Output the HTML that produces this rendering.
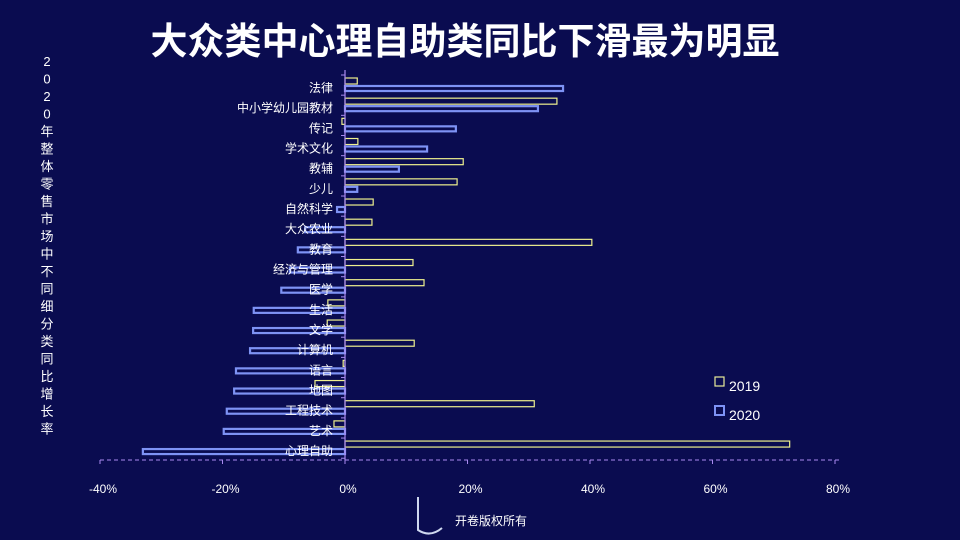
<!DOCTYPE html>
<html><head><meta charset="utf-8">
<style>
html,body{margin:0;padding:0;background:#0a0c50;}
svg{display:block;font-family:"Liberation Sans","Noto Sans CJK SC",sans-serif;}
</style></head>
<body>
<svg id="chart" width="960" height="540" viewBox="0 0 960 540">
<rect width="960" height="540" fill="#0a0c50"/>
<text x="465" y="54" fill="#fff" font-size="37" font-weight="bold" text-anchor="middle" font-family="'Liberation Sans','Noto Sans CJK SC',sans-serif">大众类中心理自助类同比下滑最为明显</text>
<g id="ytitle"></g>
<g id="bars"></g>
<g id="axes"></g>
<g>
<rect x="715" y="377" width="9" height="9" fill="none" stroke="#e8ec9a" stroke-width="1.2"/>
<text x="729" y="391" fill="#fff" font-size="14">2019</text>
<rect x="715" y="406" width="9" height="9" fill="none" stroke="#7e93f5" stroke-width="2"/>
<text x="729" y="420" fill="#fff" font-size="14">2020</text>
</g>
<g>
<path d="M418 497 L418 530 Q430 538 442 528" fill="none" stroke="#cfd8ef" stroke-width="2"/>
<text x="455" y="525" fill="#fff" font-size="12">开卷版权所有</text>
</g>
</svg>
<script>
const categories=["法律","中小学幼儿园教材","传记","学术文化","教辅","少儿","自然科学","大众农业","教育","经济与管理","医学","生活","文学","计算机","语言","地图","工程技术","艺术","心理自助"];
const values2019=[2.0,34.6,-0.5,2.1,19.3,18.3,4.6,4.4,40.3,11.1,12.9,-2.8,-2.9,11.3,-0.3,-4.9,30.9,-1.8,72.6];
const values2020=[35.6,31.5,18.1,13.4,8.8,2.0,-1.3,-6.5,-7.7,-9.0,-10.4,-14.9,-15.0,-15.5,-17.8,-18.1,-19.3,-19.8,-33.0];
const xTicks=[-40,-20,0,20,40,60,80];
const titleChars="2020年整体零售市场中不同细分类同比增长率";
const NS="http://www.w3.org/2000/svg";
function x(v){return 345+v*122.5/20;}
function rowTop(i){return 78+i*20.17;}
function mk(tag,attrs,parent){const e=document.createElementNS(NS,tag);for(const k in attrs)e.setAttribute(k,attrs[k]);parent.appendChild(e);return e;}
const bars=document.getElementById('bars'),axes=document.getElementById('axes'),yt=document.getElementById('ytitle');
for(let i=0;i<titleChars.length;i++){
  const t=mk('text',{x:47,y:66+i*17.5,fill:'#fff','font-size':13,'text-anchor':'middle'},yt);
  t.textContent=titleChars[i];
}
categories.forEach((c,i)=>{
  const t=rowTop(i);
  const a=values2019[i],b=values2020[i];
  const r1=mk('rect',{x:Math.min(x(0),x(a)),y:t,width:Math.max(1,Math.abs(x(a)-x(0))),height:6,fill:'none',stroke:'#eef08e','stroke-width':1.2},bars);
  
  
  const r2=mk('rect',{x:Math.min(x(0),x(b)),y:t+8,width:Math.max(1,Math.abs(x(b)-x(0))),height:5,fill:'none',stroke:'#7e93f5','stroke-width':2.2},bars);
  
  
  const l=mk('text',{x:333,y:t+14,fill:'#fff','font-size':12,'text-anchor':'end'},axes);
  l.textContent=c;
  
  
});
mk('line',{x1:x(0),y1:70,x2:x(0),y2:460,stroke:'#a98af0','stroke-width':1.2},axes);
for(let i=0;i<=categories.length;i++){
  const y=rowTop(i)-3;
  mk('line',{x1:x(0)-4,y1:y,x2:x(0),y2:y,stroke:'#a98af0','stroke-width':1},axes);
}
mk('line',{x1:x(-40),y1:460,x2:839,y2:460,stroke:'#a98af0','stroke-width':1,'stroke-dasharray':'4,3'},axes);
xTicks.forEach(v=>{
  mk('line',{x1:x(v),y1:460,x2:x(v),y2:464,stroke:'#a98af0','stroke-width':1},axes);
  const t=mk('text',{x:x(v)+3,y:493,fill:'#fff','font-size':12,'text-anchor':'middle'},axes);
  t.textContent=v+'%';
  
  
});
</script>
</body></html>
